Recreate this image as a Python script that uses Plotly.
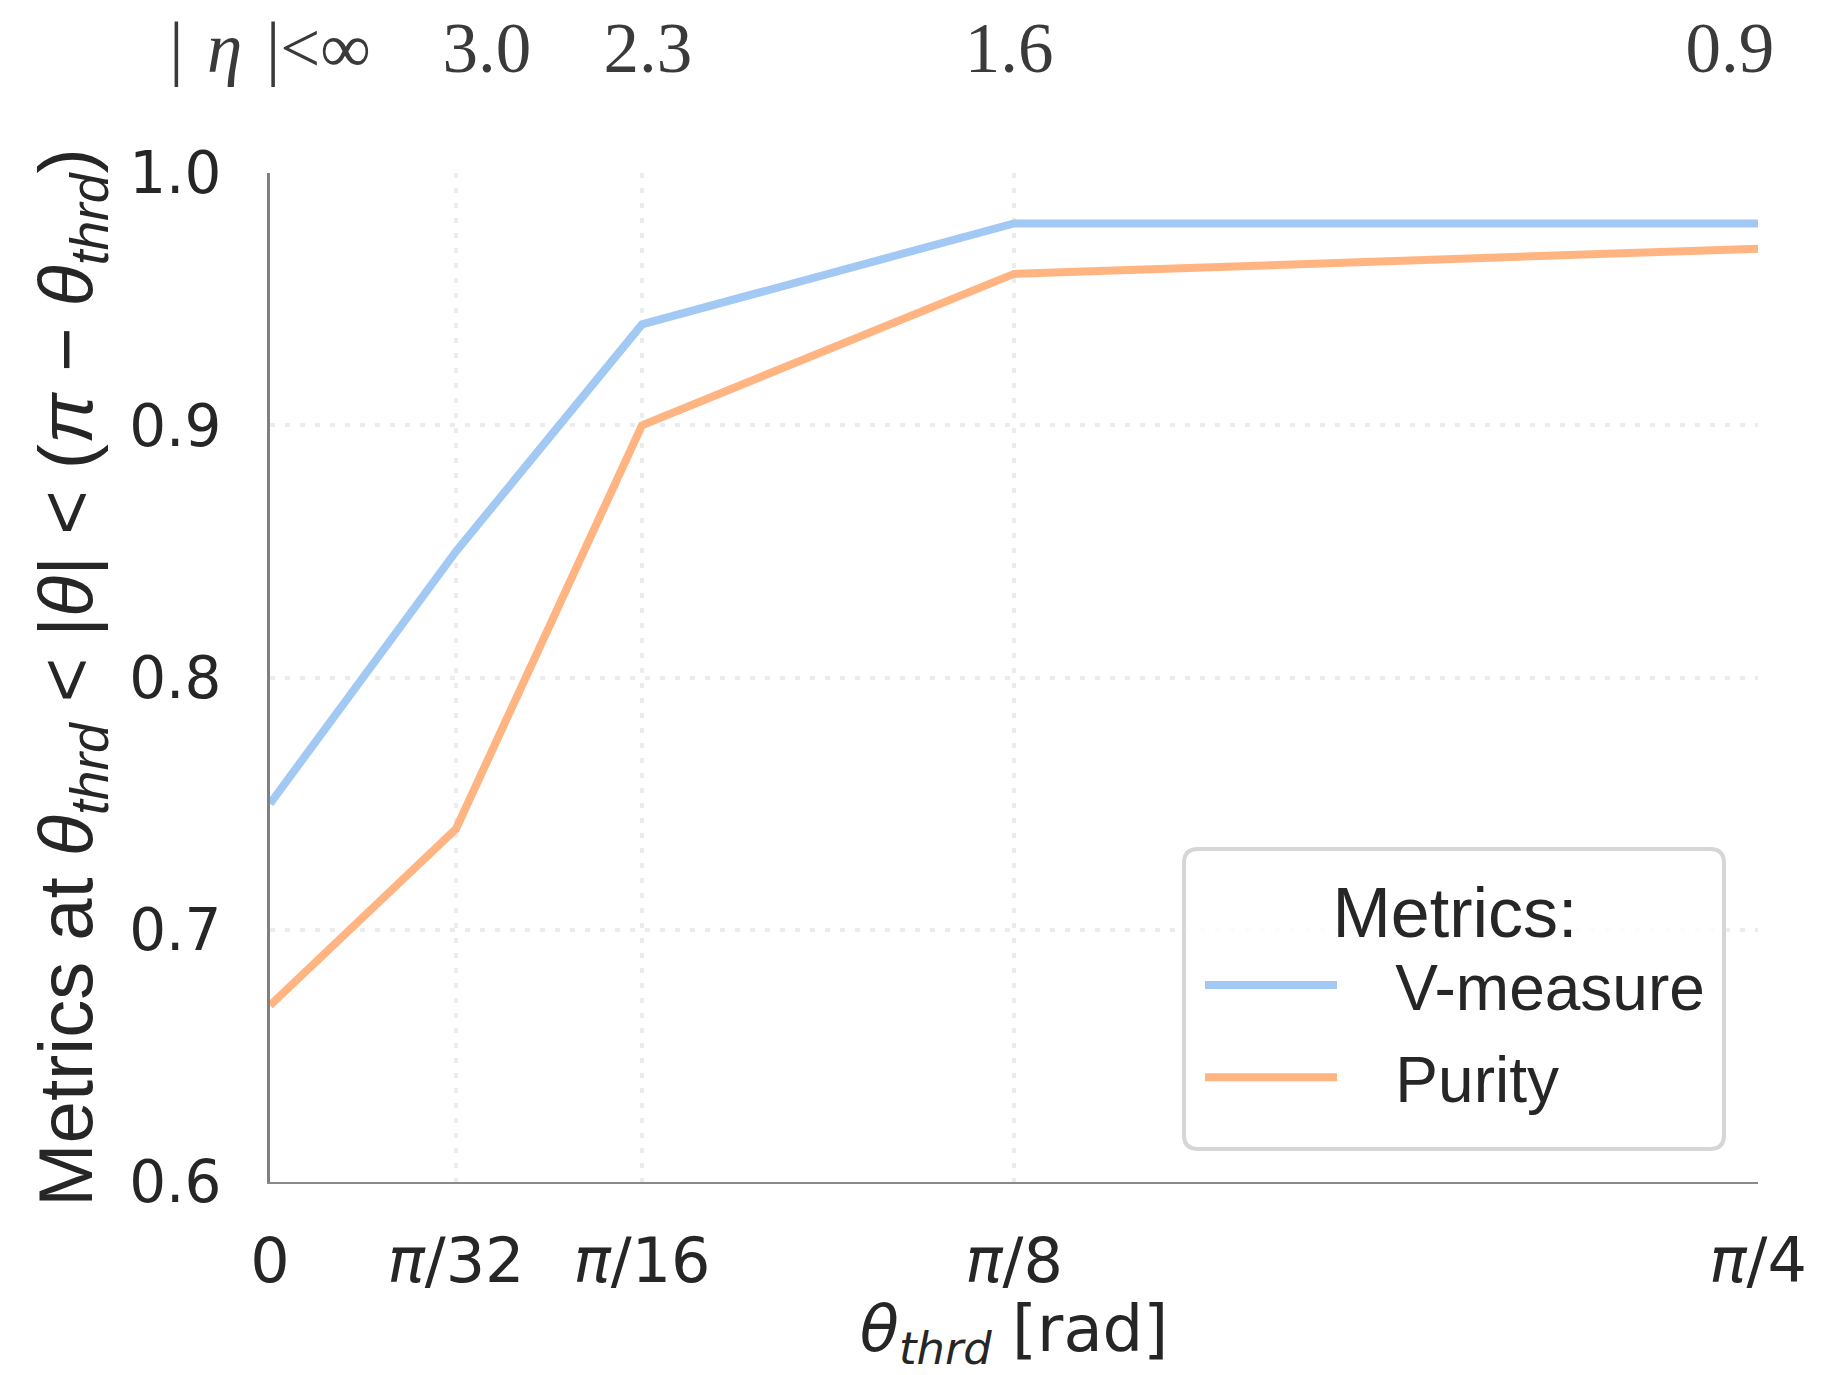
import math
import plotly.graph_objects as go

# ---- data ----
theta_vals = [0, math.pi / 32, math.pi / 16, math.pi / 8, math.pi / 4]
theta_labels = ["0", "<i>π</i>/32", "<i>π</i>/16", "<i>π</i>/8", "<i>π</i>/4"]
eta_positions = [0.0, 0.1145, 0.1995, 0.3901, 0.7706]   # where the |eta| labels sit (theta units)
eta_labels = ["|\u2004<i>η</i>\u2004|&lt;∞", "3.0", "2.3", "1.6", "0.9"]
v_measure = [0.75, 0.85, 0.94, 0.98, 0.98]
purity = [0.67, 0.74, 0.90, 0.96, 0.97]
y_ticks = [0.6, 0.7, 0.8, 0.9, 1.0]

BLUE = "#a1c9f4"
ORANGE = "#ffb482"
GRID = "#ececec"
TXT = "#262626"
NB = "\u00a0"

fig = go.Figure()
fig.add_trace(go.Scatter(x=theta_vals, y=v_measure, mode="lines", name=NB * 3 + "V-measure",
                         legendgroup="a", line=dict(color=BLUE, width=8)))
fig.add_trace(go.Scatter(x=theta_vals, y=purity, mode="lines", name=NB * 3 + "Purity",
                         legendgroup="b", line=dict(color=ORANGE, width=8)))

xr = [0, math.pi / 4]
fig.update_layout(
    width=1834, height=1375,
    margin=dict(l=270, r=76, t=173, b=193, autoexpand=False),
    paper_bgcolor="white", plot_bgcolor="white",
    font=dict(family="DejaVu Sans", color=TXT),
    xaxis=dict(
        range=xr, tickmode="array", tickvals=theta_vals, ticktext=theta_labels,
        tickfont=dict(size=62, family="DejaVu Sans", color=TXT),
        showgrid=True, gridcolor=GRID, griddash="5px,10px", gridwidth=4,
        showline=True, linecolor="#8a8a8a", linewidth=2, automargin=False,
        ticks="", ticklabelstandoff=24, zeroline=False,
        title=dict(text="<i>θ</i><sub><i>thrd</i></sub> [rad]",
                   font=dict(size=64, family="DejaVu Sans", color=TXT), standoff=44),
    ),
    xaxis2=dict(
        range=xr, overlaying="x", side="top", tickmode="array",
        tickvals=eta_positions, ticktext=eta_labels, automargin=False,
        tickfont=dict(size=71, family="Liberation Serif", color="#3a3a3a"),
        showgrid=False, showline=False, zeroline=False, ticks="",
        ticklabelstandoff=86,
    ),
    yaxis=dict(
        range=[0.6, 1.0], tickmode="array", tickvals=y_ticks,
        ticktext=[f"{v:.1f}" for v in y_ticks], automargin=False,
        tickfont=dict(size=58, family="DejaVu Sans", color=TXT),
        showgrid=True, gridcolor=GRID, griddash="5px,10px", gridwidth=4,
        showline=True, linecolor="#808080", linewidth=3,
        ticks="", ticklabelstandoff=34, zeroline=False,
        title=dict(text="Metrics at <i>θ</i><sub><i>thrd</i></sub> &lt; |<i>θ</i>| &lt; (<i>π</i> − <i>θ</i><sub><i>thrd</i></sub>)",
                   font=dict(size=76, family="Liberation Sans", color=TXT), standoff=12),
    ),
    showlegend=True,
    legend=dict(
        x=0.625, y=0.333, xanchor="left", yanchor="top",
        bgcolor="rgba(255,255,255,0)", borderwidth=0,
        font=dict(size=64, family="Liberation Sans", color=TXT),
        title=dict(text="Metrics:", side="top center",
                   font=dict(size=70, family="Liberation Sans", color=TXT)),
        itemwidth=132, tracegroupgap=6,
    ),
)

# invisible trace so the top axis is drawn
fig.add_trace(go.Scatter(x=xr, y=[0.6, 0.6], xaxis="x2", mode="lines",
                         line=dict(width=0), showlegend=False, hoverinfo="skip"))

# rounded legend frame (pixel box converted to paper coords)
W, H = 1834, 1375
L, R, T, B = 270, 76, 173, 193
pw, ph = W - L - R, H - T - B
def px(x): return (x - L) / pw
def py(y): return 1 - (y - T) / ph
x0, x1, y0, y1 = 1184, 1724, 849, 1149
r = 14
path = (f"M {px(x0+r)},{py(y0)} L {px(x1-r)},{py(y0)} Q {px(x1)},{py(y0)} {px(x1)},{py(y0+r)} "
        f"L {px(x1)},{py(y1-r)} Q {px(x1)},{py(y1)} {px(x1-r)},{py(y1)} L {px(x0+r)},{py(y1)} "
        f"Q {px(x0)},{py(y1)} {px(x0)},{py(y1-r)} L {px(x0)},{py(y0+r)} Q {px(x0)},{py(y0)} {px(x0+r)},{py(y0)} Z")
fig.add_shape(type="path", xref="paper", yref="paper", path=path,
              line=dict(color="#d6d6d6", width=4), fillcolor="rgba(255,255,255,0.85)", layer="above")

fig.write_html("out.html")
